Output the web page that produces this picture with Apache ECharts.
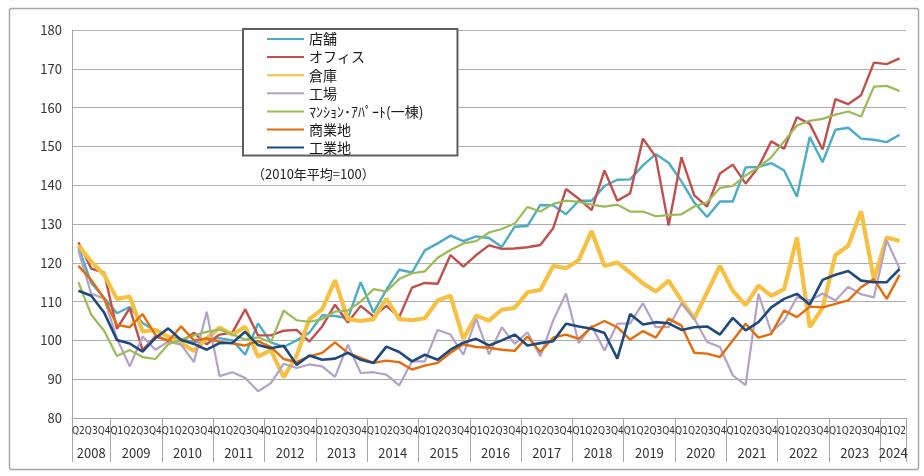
<!DOCTYPE html>
<html><head><meta charset="utf-8">
<script src="https://cdn.jsdelivr.net/npm/echarts@6/dist/echarts.min.js"></script>
<style>html,body{margin:0;padding:0;background:#fff}#c{width:924px;height:476px}</style>
</head><body><div id="c"></div>
<script>
// ---- tick labels ----
const years = ['2008','2009','2010','2011','2012','2013','2014','2015','2016','2017','2018','2019','2020','2021','2022','2023','2024'];
const firstYearQuarters = ['Q2','Q3','Q4'];
const fullYearQuarters = ['Q1','Q2','Q3','Q4'];
const lastYearQuarters = ['Q1','Q2'];
const yTicks = { min: 80, max: 180, interval: 10 };
const note = '（2010年平均=100）';

// ---- series names ----
const seriesNames = ['店舗','オフィス','倉庫','工場','ﾏﾝｼｮﾝ･ｱﾊﾟｰﾄ(一棟)','商業地','工業地'];

// ---- series values (2008Q2 .. 2024Q2) ----
const store = [124,114.8,111,107,108.6,104.5,102.5,101,100.3,99.5,
 100.2,100.6,100,96.3,104.4,99.5,98.3,100,102,106.5,
 106.3,105.7,115,107.2,113,118.2,117.5,123.2,125,127,
 125.6,126.8,126.4,124.1,129.3,129.5,134.9,134.8,132.5,136,
 136,139.8,141.4,141.5,145.1,148,145.8,141,135.5,131.8,
 135.8,135.8,144.6,144.7,145.7,143.8,137,152.4,145.9,154.3,
 154.8,152,151.7,151.1,153];
const office = [125.3,118.5,117.5,103,108.3,97.5,101,100,99.5,102,
 99,101.5,102,108,101.3,101.3,102.5,102.7,99.7,103.6,
 109.2,104.6,108.9,106.2,108.9,106,113.6,114.8,114.6,122,
 119,122,124.5,123.6,123.7,124,124.6,128.9,139,136.5,
 133.6,143.8,136,137.9,152,147.3,129.6,147.2,137.4,134.5,
 143,145.3,140.4,144.7,151.3,149.4,157.5,155.8,149.2,162.2,
 160.9,163.2,171.6,171.2,172.7];
const warehouse = [124.5,120.3,116.9,110.7,111.3,102.3,102.7,101,99.3,97.3,
 100.5,103.3,101.5,103.5,95.8,97.5,90.5,96,105.5,108,
 115.5,105.5,105,105.5,110.8,105.5,105.2,105.7,110.3,111.5,
 100.4,106.4,105.1,107.9,108.4,112.4,113,119.2,118.6,120.7,
 128.2,119.2,120.1,117.5,114.7,112.6,115.4,110.3,105.6,112.4,
 119.2,112.8,109.1,114.1,111.5,113.2,126.5,103.4,108.4,122,
 124.4,133.3,115.8,126.5,125.6];
const factory = [123.2,112,110.8,100.5,93.3,101,97.6,99.7,98.9,94.4,
 107.4,90.8,91.8,90.3,86.9,89,94,92.9,93.8,93.3,
 90.6,98.9,91.6,91.8,91.2,88.4,94.6,94.6,102.7,101.5,
 96.3,105.6,96.4,103.4,99.1,102.1,95.9,105.1,112.1,99.3,
 103.8,97.4,104.3,104.4,109.6,103.4,103.4,109.5,105.6,99.6,
 98.3,91,88.5,112,102.1,105.1,111.1,110.3,112.1,110.3,
 113.8,111.9,111.1,125.8,118.5];
const apartment = [115,106.6,102.5,96,97.5,95.7,95.2,99,100.2,101.3,
 102.2,102.8,101.5,100.2,100.8,99.5,107.7,105.2,104.8,105.5,
 107.4,107.7,110,113.2,112.6,115.8,117.3,117.8,121.3,123.3,
 125,125.6,127.8,128.7,130.1,134.4,133.2,135.2,136,135.7,
 135,134.5,135,133.2,133.2,132,132.3,132.5,134.5,135.6,
 139.3,139.8,142.5,144.6,147.2,151.3,155.4,156.6,157.1,158.2,
 159,157.7,165.4,165.6,164.3];
const commercialLand = [119.2,115.6,110.8,104,103.4,106.8,101.4,99.8,103.6,100,
 100.5,99.6,99.2,98.7,99.8,98.3,95.2,94.4,95.9,96.8,
 99.5,96.8,95.5,94.2,94.8,94.4,92.5,93.5,94.2,96.8,
 99,98.3,98.1,97.6,97.3,101,97,100.7,101.5,100.4,
 103.4,105,103.4,100.2,102.4,100.7,105.6,103.8,96.8,96.6,
 95.7,100,104.3,100.7,101.7,107.7,106,108.7,108.5,109.4,
 110.3,113.7,115.8,110.7,116.9];
const industrialLand = [112.8,111.5,107.2,100.1,99.2,97.1,100.6,103.1,100.1,99.1,
 97.6,99.3,99.4,102.2,98.8,98,98.6,93.7,96.1,95,
 95.3,96.8,95,94.2,98.4,97,94.6,96.3,95,97.6,
 99.4,100.4,98.7,100,101.5,98.7,99.3,99.8,104.3,103.6,
 103,101.9,95.3,106.8,104.1,104.7,104.4,102.7,103.4,103.6,
 101.5,105.8,102.6,104.7,108.5,110.7,112,109.2,115.6,116.9,
 117.9,115.4,115,115,118.4];

// ---- build categories / year groups ----
const categories = [];
const yearBounds = [0];
const yearCenters = {};
years.forEach((y, k) => {
  const qs = k === 0 ? firstYearQuarters : (k === years.length - 1 ? lastYearQuarters : fullYearQuarters);
  const start = categories.length;
  qs.forEach(q => categories.push(q));
  yearBounds.push(categories.length);
  yearCenters[(start + categories.length) / 2] = y;
});
const centerValues = Object.keys(yearCenters).map(Number);

const seriesData = [store, office, warehouse, factory, apartment, commercialLand, industrialLand];
const colors = ['#4BACC6','#C0504D','#F6C142','#B3A2C7','#9BBB59','#E46C0A','#1F497D'];
const widths = [2.4, 2.4, 4.2, 2.2, 2.2, 2.4, 2.6];

const FONT = '"Noto Sans CJK JP", "Noto Sans", sans-serif';
const chart = echarts.init(document.getElementById('c'));
chart.setOption({
  animation: false,
  backgroundColor: '#fff',
  textStyle: { fontFamily: FONT },
  color: colors,
  graphic: [{
    type: 'rect', left: 7, top: 6, z: -10,
    shape: { width: 909, height: 461, r: 2 },
    style: { fill: 'none', stroke: '#A6A6A6', lineWidth: 1.5 }
  }],
  title: {
    text: note, left: 247, top: 163,
    textStyle: { fontSize: 13, fontWeight: 'normal', color: '#222', fontFamily: FONT }
  },
  legend: {
    orient: 'vertical', left: 243, top: 29,
    padding: [3, 34, 1, 23],
    itemWidth: 37, itemHeight: 14, itemGap: 4.1,
    borderColor: '#5F5F5F', borderWidth: 2, backgroundColor: '#fff',
    itemStyle: { opacity: 0 },
    textStyle: { fontSize: 14, color: '#1a1a1a', fontFamily: FONT },
    data: seriesNames
  },
  grid: { left: 72, right: 18, top: 30, bottom: 58, containLabel: false },
  xAxis: [{
    type: 'category', data: categories, boundaryGap: true,
    axisLine: { show: true, lineStyle: { color: '#A6A6A6', width: 1 } },
    axisTick: { show: false },
    axisLabel: { interval: 0, fontSize: 10, margin: 8, color: '#333',
      fontFamily: '"DejaVu Sans Condensed", "Liberation Sans", sans-serif' }
  }, {
    type: 'value', min: 0, max: categories.length, position: 'bottom',
    axisLine: { show: false }, splitLine: { show: false },
    axisTick: { show: true, customValues: yearBounds, length: 44, inside: false,
      lineStyle: { color: '#A6A6A6', width: 1 } },
    axisLabel: { customValues: centerValues, margin: 29, fontSize: 13, color: '#333',
      formatter: v => yearCenters[v] || '' }
  }],
  yAxis: {
    type: 'value', min: yTicks.min, max: yTicks.max, interval: yTicks.interval,
    axisLine: { show: true, lineStyle: { color: '#A6A6A6', width: 1 } },
    axisTick: { show: false },
    axisLabel: { fontSize: 13, margin: 10, color: '#333' },
    splitLine: { lineStyle: { color: '#ADADAD', width: 1 } }
  },
  series: seriesNames.map((n, k) => ({
    name: n, type: 'line', xAxisIndex: 0, data: seriesData[k],
    symbol: 'none', showSymbol: false,
    lineStyle: { width: widths[k], color: colors[k] },
    itemStyle: { color: colors[k] }
  }))
});
</script></body></html>
